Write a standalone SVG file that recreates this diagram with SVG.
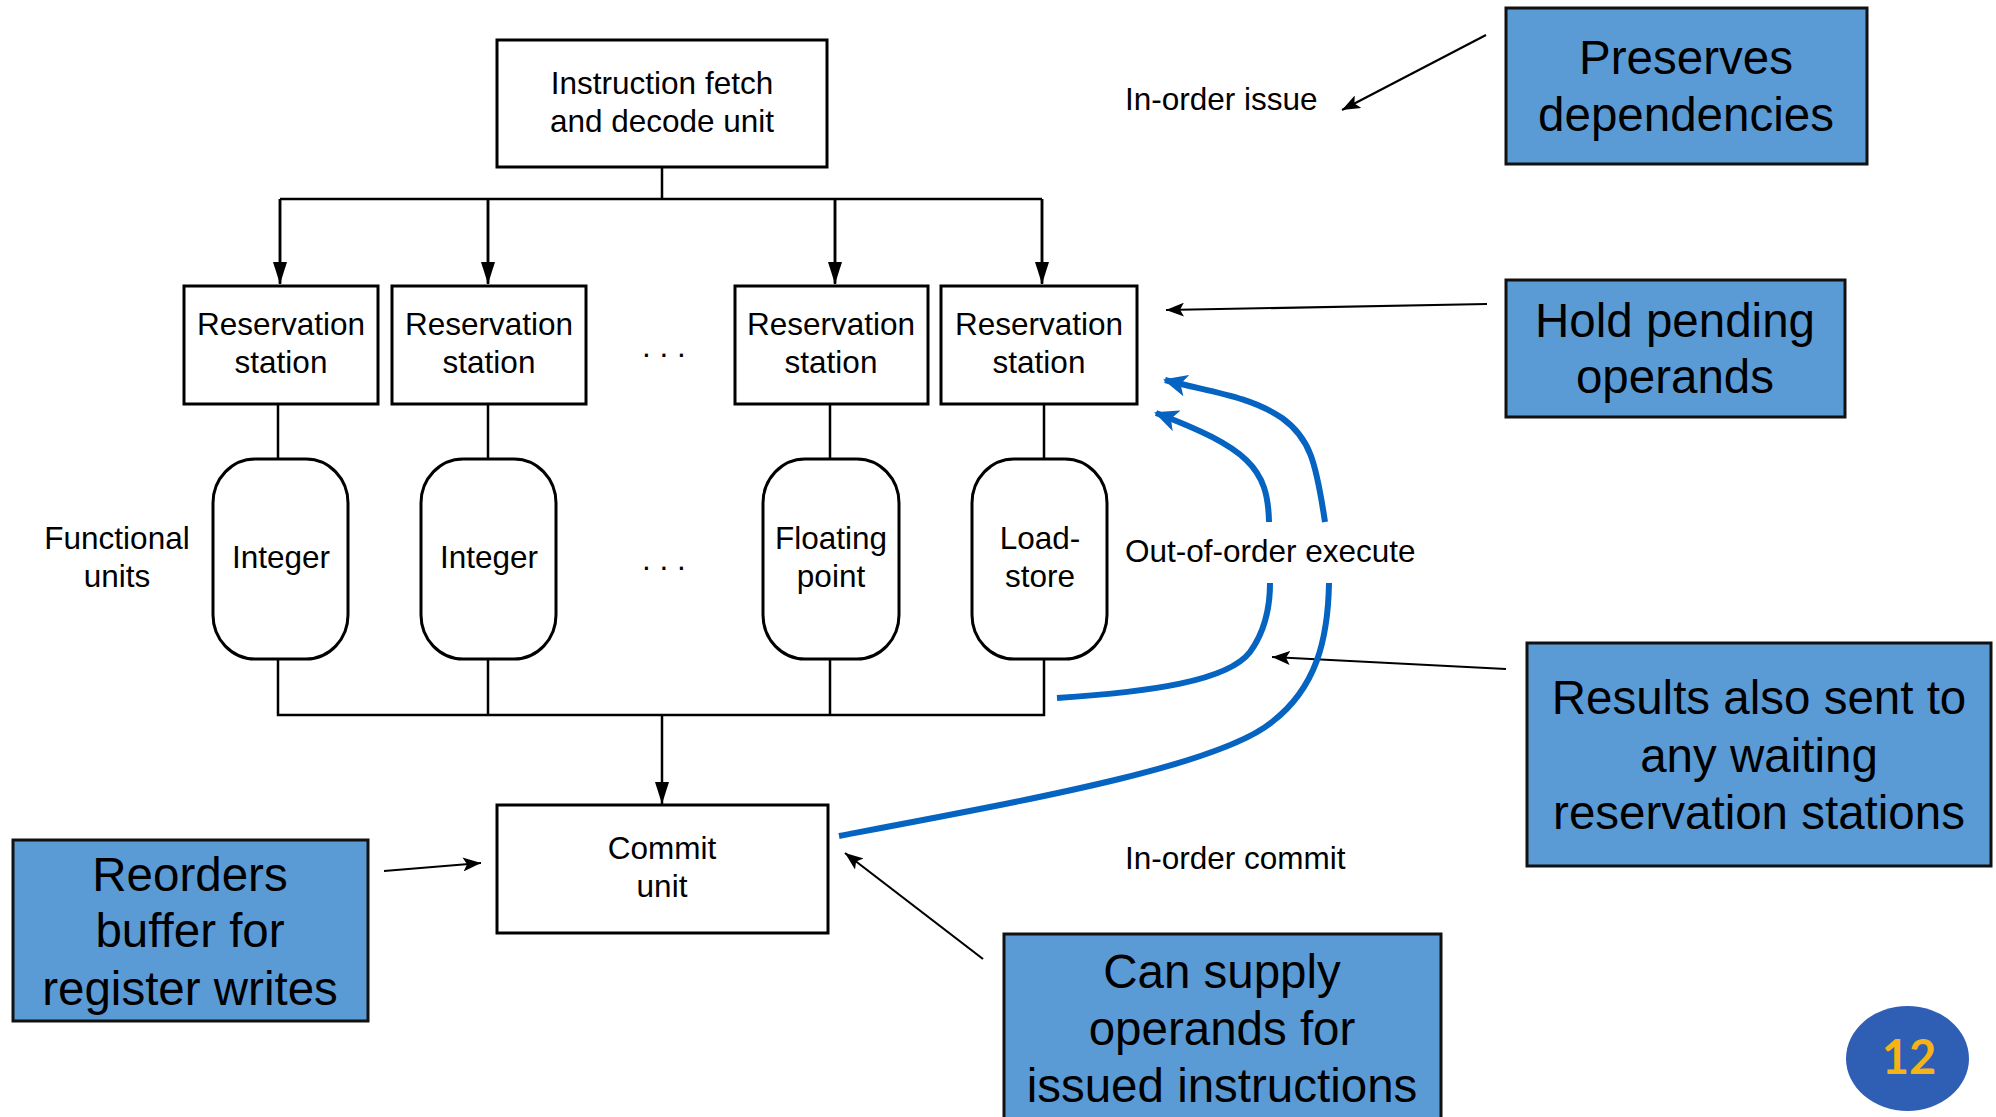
<svg xmlns="http://www.w3.org/2000/svg" width="1996" height="1117" viewBox="0 0 1996 1117">
<defs>
<style>
.t{font-family:"Liberation Sans",Arial,Helvetica,sans-serif;font-size:31.5px;fill:#000;text-anchor:middle}
.lb{font-family:"Liberation Sans",Arial,Helvetica,sans-serif;font-size:31.5px;fill:#000}
.big{font-family:"Liberation Sans",Arial,Helvetica,sans-serif;font-size:47.5px;fill:#000;text-anchor:middle}
.box{fill:#fff;stroke:#000;stroke-width:3}
.pill{fill:#fff;stroke:#000;stroke-width:3}
.note{fill:#5B9BD5;stroke:#111;stroke-width:3}
.wire{fill:none;stroke:#000;stroke-width:2.5}
.ann{fill:none;stroke:#000;stroke-width:2.2}
.blue{fill:none;stroke:#0563C1;stroke-width:6}
</style>
<marker id="ah" markerWidth="22" markerHeight="14" refX="22" refY="7" orient="auto" markerUnits="userSpaceOnUse">
<path d="M0,0 L22,7 L0,14 Z" fill="#000"/>
</marker>
<marker id="ah2" markerWidth="18" markerHeight="14" refX="18" refY="7" orient="auto" markerUnits="userSpaceOnUse">
<path d="M0,0 L18,7 L0,14 L4,7 Z" fill="#000"/>
</marker>
<marker id="bh" markerWidth="26" markerHeight="22" refX="22" refY="11" orient="auto" markerUnits="userSpaceOnUse">
<path d="M0,0 L24,11 L0,22 L6,11 Z" fill="#0563C1"/>
</marker>
</defs>

<g id="connectors">
<path class="wire" d="M662,167 V199 M280,199 H1042 M280,199 V283 M488,199 V283 M835,199 V283 M1042,199 V283" />
<path class="wire" d="M280,199 V284" marker-end="url(#ah)"/>
<path class="wire" d="M488,199 V284" marker-end="url(#ah)"/>
<path class="wire" d="M835,199 V284" marker-end="url(#ah)"/>
<path class="wire" d="M1042,199 V284" marker-end="url(#ah)"/>
<path class="wire" d="M278,404 V458 M488,404 V458 M830,404 V458 M1044,404 V458"/>
<path class="wire" d="M278,659 V715 H1044 V659 M488,659 V715 M830,659 V715"/>
<path class="wire" d="M662,715 V804" marker-end="url(#ah)"/>
<path class="ann" d="M1486,35 L1342,110" marker-end="url(#ah2)"/>
<path class="ann" d="M1487,304 L1166,310" marker-end="url(#ah2)"/>
<path class="ann" d="M1506,669 L1272,657" marker-end="url(#ah2)"/>
<path class="ann" d="M384,871 L481,863" marker-end="url(#ah2)"/>
<path class="ann" d="M983,959 L845,853" marker-end="url(#ah2)"/>
<path class="blue" d="M1057,698 C1150,692 1228,681 1250,652 C1266,630 1270,605 1270,583"/>
<path class="blue" d="M1269,522 C1268,468 1248,448 1156,413" marker-end="url(#bh)"/>
<path class="blue" d="M839,836 C1040,798 1220,765 1272,722 C1316,688 1328,640 1329,583"/>
<path class="blue" d="M1325,522 C1316,462 1310,438 1282,418 C1250,396 1210,392 1165,380" marker-end="url(#bh)"/>
</g>

<g id="fetch">
<rect class="box" x="497" y="40" width="330" height="127"/>
<text class="t" x="662" y="94">Instruction fetch</text>
<text class="t" x="662" y="132">and decode unit</text>
</g>

<g id="rs1">
<rect class="box" x="184" y="286" width="194" height="118"/>
<text class="t" x="281" y="335">Reservation</text>
<text class="t" x="281" y="373">station</text>
</g>
<g id="rs2">
<rect class="box" x="392" y="286" width="194" height="118"/>
<text class="t" x="489" y="335">Reservation</text>
<text class="t" x="489" y="373">station</text>
</g>
<g id="rs-dots">
<text class="t" x="664" y="357">. . .</text>
</g>
<g id="rs3">
<rect class="box" x="735" y="286" width="193" height="118"/>
<text class="t" x="831" y="335">Reservation</text>
<text class="t" x="831" y="373">station</text>
</g>
<g id="rs4">
<rect class="box" x="941" y="286" width="196" height="118"/>
<text class="t" x="1039" y="335">Reservation</text>
<text class="t" x="1039" y="373">station</text>
</g>

<g id="fu-label">
<text class="t" x="117" y="549">Functional</text>
<text class="t" x="117" y="587">units</text>
</g>
<g id="int1">
<rect class="pill" x="213" y="459" width="135" height="200" rx="42" ry="44"/>
<text class="t" x="281" y="568">Integer</text>
</g>
<g id="int2">
<rect class="pill" x="421" y="459" width="135" height="200" rx="42" ry="44"/>
<text class="t" x="489" y="568">Integer</text>
</g>
<g id="fu-dots">
<text class="t" x="664" y="570">. . .</text>
</g>
<g id="fp">
<rect class="pill" x="763" y="459" width="136" height="200" rx="42" ry="44"/>
<text class="t" x="831" y="549">Floating</text>
<text class="t" x="831" y="587">point</text>
</g>
<g id="ls">
<rect class="pill" x="972" y="459" width="135" height="200" rx="42" ry="44"/>
<text class="t" x="1040" y="549">Load-</text>
<text class="t" x="1040" y="587">store</text>
</g>

<g id="commit">
<rect class="box" x="497" y="805" width="331" height="128"/>
<text class="t" x="662" y="859">Commit</text>
<text class="t" x="662" y="897">unit</text>
</g>

<g id="labels">
<text class="lb" x="1125" y="110">In-order issue</text>
<text class="lb" x="1125" y="562">Out-of-order execute</text>
<text class="lb" x="1125" y="869">In-order commit</text>
</g>

<g id="note-preserves">
<rect class="note" x="1506" y="8" width="361" height="156"/>
<text class="big" x="1686" y="74">Preserves</text>
<text class="big" x="1686" y="131">dependencies</text>
</g>
<g id="note-hold">
<rect class="note" x="1506" y="280" width="339" height="137"/>
<text class="big" x="1675" y="337">Hold pending</text>
<text class="big" x="1675" y="393">operands</text>
</g>
<g id="note-results">
<rect class="note" x="1527" y="643" width="464" height="223"/>
<text class="big" x="1759" y="714">Results also sent to</text>
<text class="big" x="1759" y="772">any waiting</text>
<text class="big" x="1759" y="829">reservation stations</text>
</g>
<g id="note-reorders">
<rect class="note" x="13" y="840" width="355" height="181"/>
<text class="big" x="190" y="891">Reorders</text>
<text class="big" x="190" y="947">buffer for</text>
<text class="big" x="190" y="1005">register writes</text>
</g>
<g id="note-supply">
<rect class="note" x="1004" y="934" width="437" height="200"/>
<text class="big" x="1222" y="988">Can supply</text>
<text class="big" x="1222" y="1045">operands for</text>
<text class="big" x="1222" y="1102">issued instructions</text>
</g>

<g id="page-number">
<ellipse cx="1907.5" cy="1058.5" rx="61.5" ry="52.5" fill="#2F5EB5"/>
<text x="1909" y="1074" font-family="Lato,'Open Sans',sans-serif" font-weight="bold" font-size="47" fill="#F5B316" text-anchor="middle">12</text>
</g>
</svg>
